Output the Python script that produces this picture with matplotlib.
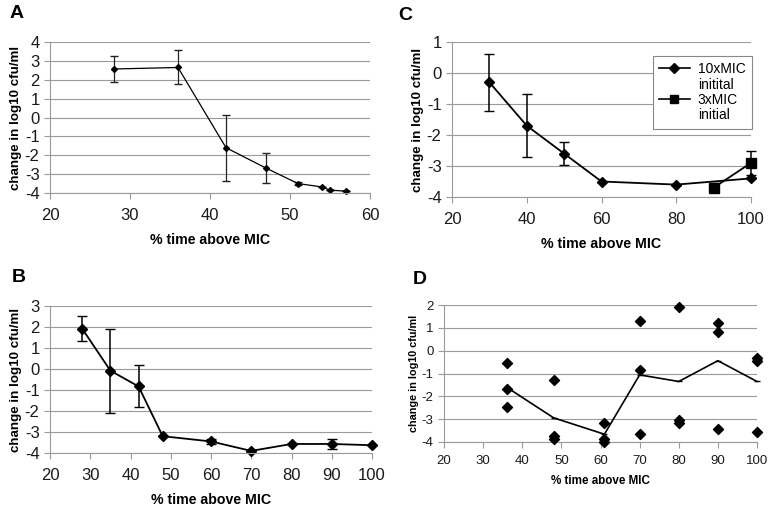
import matplotlib
matplotlib.use("Agg")
import matplotlib.pyplot as plt
from matplotlib.lines import Line2D

plt.rcParams['font.family'] = ['Liberation Sans', 'DejaVu Sans']
plt.rcParams['axes.unicode_minus'] = False

# ---------------- data ----------------
# Panel A
a_x = [28, 36, 42, 47, 51, 54, 55, 57]
a_y = [2.57, 2.65, -1.6, -2.68, -3.5, -3.68, -3.85, -3.9]
a_err = [0.68, 0.9, 1.75, 0.8, 0.08, 0.0, 0.0, 0.0]

# Panel B
b_x = [28, 35, 42, 48, 60, 70, 80, 90, 100]
b_y = [1.92, -0.08, -0.83, -3.2, -3.45, -3.9, -3.57, -3.57, -3.63]
b_err = [0.6, 2.0, 1.0, 0.0, 0.12, 0.0, 0.0, 0.25, 0.0]

# Panel C
c10_x = [30, 40, 50, 60, 80, 100]
c10_y = [-0.3, -1.7, -2.6, -3.5, -3.6, -3.4]
c10_err = [0.91, 1.02, 0.38, 0.0, 0.0, 0.0]
c3_x = [90, 100]
c3_y = [-3.7, -2.9]
c3_err = [0.15, 0.4]
c_labels = ["10xMIC", "initital", "3xMIC", "initial"]

# Panel D (individual points and mean line)
d_pts_x = [36, 36, 36, 48, 48, 48, 61, 61, 61, 70, 70, 70,
           80, 80, 80, 90, 90, 90, 100, 100, 100]
d_pts_y = [-0.55, -1.66, -2.46, -1.27, -3.74, -3.85, -3.16, -3.88, -3.98,
           1.32, -0.86, -3.66, 1.93, -3.05, -3.16, 1.23, 0.82, -3.45,
           -0.32, -0.44, -3.56]
d_mean_x = [36, 48, 61, 70, 80, 90, 100]
d_mean_y = [-1.6, -2.94, -3.66, -1.06, -1.35, -0.44, -1.35]

ylabel = "change in log10 cfu/ml"
xlabel = "% time above MIC"

# ---------------- figure ----------------
W, H = 771, 512
fig = plt.figure(figsize=(W / 100, H / 100), dpi=100)

def px_axes(l, r, t, b):
    return fig.add_axes([l / W, 1 - b / H, (r - l) / W, (b - t) / H])

GRID = '#9a9a9a'

def style(ax, xlim, xticks, ylim, yticks, tfs=12, lfs=9.6, xpad=7, xlpad=7):
    ax.set_xlim(*xlim)
    ax.set_ylim(*ylim)
    ax.set_xticks(xticks)
    ax.set_yticks(yticks)
    ax.yaxis.grid(True, color=GRID, lw=0.8)
    ax.set_axisbelow(True)
    for s in ['top', 'right']:
        ax.spines[s].set_visible(False)
    for s in ['left', 'bottom']:
        ax.spines[s].set_color(GRID)
        ax.spines[s].set_linewidth(0.8)
    ax.tick_params(axis='both', colors=GRID, labelcolor='#1a1a1a',
                   labelsize=tfs, length=4, width=0.8, direction='out')
    ax.tick_params(axis='x', pad=xpad)
    ax.set_ylabel(ylabel, fontsize=lfs, fontweight='bold', labelpad=2)
    ax.set_xlabel(xlabel, fontsize=lfs + 0.6, fontweight='bold', labelpad=xlpad)

# Panel A
axA = px_axes(50, 370, 42, 193)
style(axA, (20, 60), range(20, 61, 10), (-4, 4), range(-4, 5))
axA.errorbar(a_x, a_y, yerr=a_err, color='black', lw=0.9, marker='D',
             ms=3, capsize=3, elinewidth=0.9, ecolor='#222222', clip_on=False)

# Panel B
axB = px_axes(50, 372, 306, 453)
style(axB, (20, 100), range(20, 101, 10), (-4, 3), range(-4, 4))
axB.errorbar(b_x, b_y, yerr=b_err, color='black', lw=1.3, marker='D',
             ms=5, capsize=3.5, elinewidth=1.1, clip_on=False)

# Panel C
axC = px_axes(452, 751, 42, 197)
style(axC, (20, 100), range(20, 101, 20), (-4, 1), range(-4, 2))
axC.errorbar(c10_x, c10_y, yerr=c10_err, color='black', lw=1.3, marker='D',
             ms=5, capsize=3.5, elinewidth=1.1, clip_on=False)
axC.errorbar(c3_x, c3_y, yerr=c3_err, color='black', lw=1.3, marker='s',
             ms=6.5, capsize=3.5, elinewidth=1.1, clip_on=False)
blank = Line2D([], [], color='none')
handles = [Line2D([], [], color='black', lw=1.2, marker='D', ms=5), blank,
           Line2D([], [], color='black', lw=1.2, marker='s', ms=6), blank]
leg = axC.legend(handles, c_labels, loc='upper right',
                 bbox_to_anchor=(1.003, 0.91), borderaxespad=0,
                 fancybox=False, framealpha=1, edgecolor='#888888',
                 fontsize=10, handlelength=2.2, labelspacing=0.1,
                 borderpad=0.45, handletextpad=0.6)
leg.get_frame().set_linewidth(0.8)

# Panel D
axD = px_axes(444, 757, 305, 442)
style(axD, (20, 100), range(20, 101, 10), (-4, 2), range(-4, 3),
      tfs=9.5, lfs=7.8, xpad=5, xlpad=6)
axD.plot(d_mean_x, d_mean_y, color='black', lw=1.2, marker='_', ms=4,
         clip_on=False)
axD.scatter(d_pts_x, d_pts_y, marker='D', s=26, color='black', zorder=3,
            clip_on=False)

# Panel letters
for ch, x, y in [('A', 10, 14), ('C', 398, 16), ('B', 12, 278), ('D', 413, 279)]:
    fig.text(x / W, 1 - y / H, ch, fontsize=14, fontweight='bold',
             va='center', ha='left')

fig.savefig('out.png', dpi=100)
